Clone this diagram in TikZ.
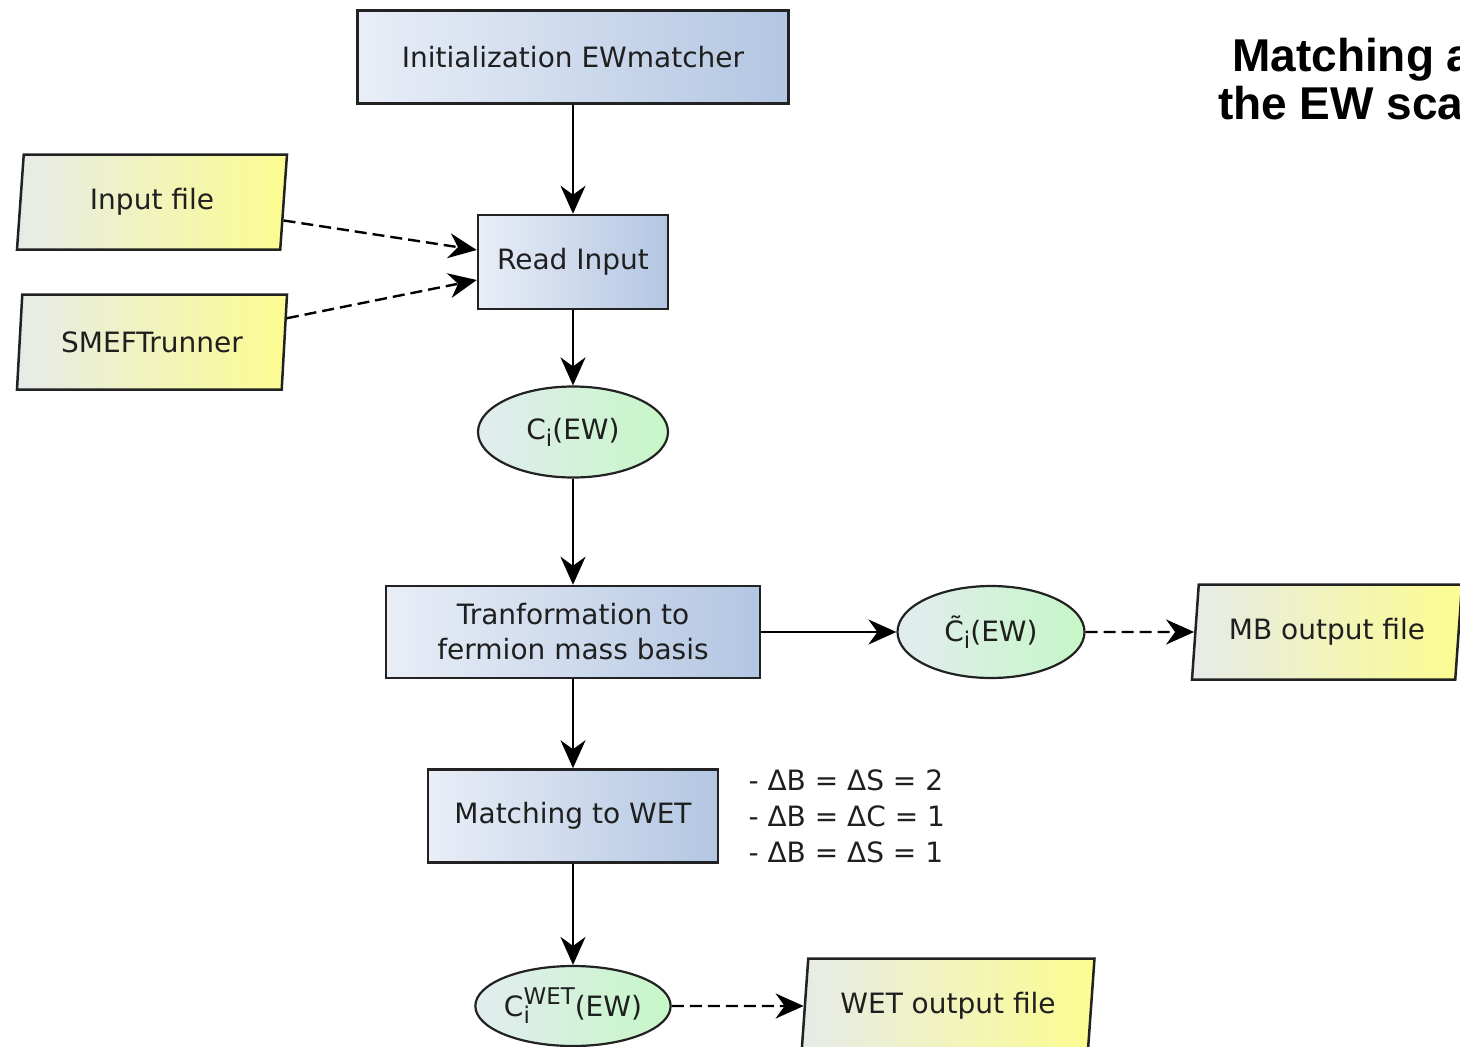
\documentclass[tikz,border=0pt]{standalone}
\usepackage{fontspec}
\setmainfont{DejaVu Sans}
\newfontfamily\headfont{Liberation Sans}
\usetikzlibrary{arrows.meta,shapes.geometric}
\definecolor{boxL}{HTML}{E9EEF7}
\definecolor{boxR}{HTML}{B3C6E2}
\definecolor{ioL}{HTML}{E6EBE9}
\definecolor{ioR}{HTML}{FCFC90}
\definecolor{ovL}{HTML}{E2ECF0}
\definecolor{ovR}{HTML}{C6F7C6}
\definecolor{edge}{HTML}{222222}
% lowered index and raised label for coefficient names
\newcommand{\idx}[1]{\raisebox{-7pt}{\fontsize{23}{23}\selectfont #1}}
\newcommand{\upidx}[1]{\raisebox{12pt}{\fontsize{23}{23}\selectfont #1}}

\begin{document}
\begin{tikzpicture}[x=1pt,y=-1pt,
  every node/.style={font=\fontsize{28}{35}\selectfont, text=black!88},
  process/.style={draw=edge, line width=2.5pt, rectangle, left color=boxL, right color=boxR, align=center, inner sep=0pt},
  datafile/.style={draw=edge, line width=2.5pt, trapezium, trapezium left angle=76, trapezium right angle=104,
    trapezium stretches body, minimum height=95pt, left color=ioL, right color=ioR, inner sep=0pt},
  coeff/.style={draw=edge, line width=2.2pt, ellipse, left color=ovL, right color=ovR, inner sep=0pt},
  flow/.style={line width=2.4pt, draw=black, -{Stealth[length=28pt,width=25pt,inset=9pt]}},
  feed/.style={flow, dash pattern=on 12pt off 6pt}]
\useasboundingbox (0,0) rectangle (1460,1047);

% main chain
\node[process, minimum width=431pt, minimum height=93pt] (init) at (573,57) {Initialization EWmatcher};
\node[process, minimum width=190pt, minimum height=94pt] (read) at (573,262) {Read Input};
\node[coeff, minimum width=190pt, minimum height=91pt] (ci) at (573,432) {C\idx{i}(EW)};
\node[process, minimum width=374pt, minimum height=92pt] (tr) at (573,632) {Tranformation to\\fermion mass basis};
\node[process, minimum width=290pt, minimum height=93pt] (wet) at (573,816) {Matching to WET};
\node[coeff, minimum width=192pt, minimum height=80pt] (cwet) at (573,1006) {C\rlap{\idx{i}}\upidx{WET}(EW)};

% inputs and outputs
\node[datafile, minimum width=270pt] (inp) at (152,202) {Input file};
\node[datafile, minimum width=270pt] (smeft) at (152,342) {SMEFTrunner};
\node[coeff, minimum width=187pt, minimum height=92pt] (cmb) at (991,632) {C̃\idx{i}(EW)};
\node[datafile, minimum width=270pt] (mb) at (1327,632) {MB output file};
\node[datafile, minimum width=293pt] (wout) at (948,1006) {WET output file};

% side note and heading
\node[anchor=west, align=left, font=\fontsize{28}{36}\selectfont] (cases) at (745,816)
  {- ΔB = ΔS = 2\\- ΔB = ΔC = 1\\- ΔB = ΔS = 1};
\node[font=\headfont\bfseries\fontsize{46}{48}\selectfont, align=center, text=black] (title) at (1360,79)
  {Matching at\\the EW scale};

% connectors
\draw[flow] (init) -- (read);
\draw[flow] (read) -- (ci);
\draw[flow] (ci) -- (tr);
\draw[flow] (tr) -- (wet);
\draw[flow] (wet) -- (cwet);
\draw[flow] (tr) -- (cmb);
\draw[feed] (cmb) -- (mb);
\draw[feed] (cwet) -- (wout);
\draw[feed] (inp.-8.5) -- ([yshift=12pt]read.west);
\draw[feed] (smeft.10) -- ([yshift=-18pt]read.west);
\end{tikzpicture}
\end{document}
